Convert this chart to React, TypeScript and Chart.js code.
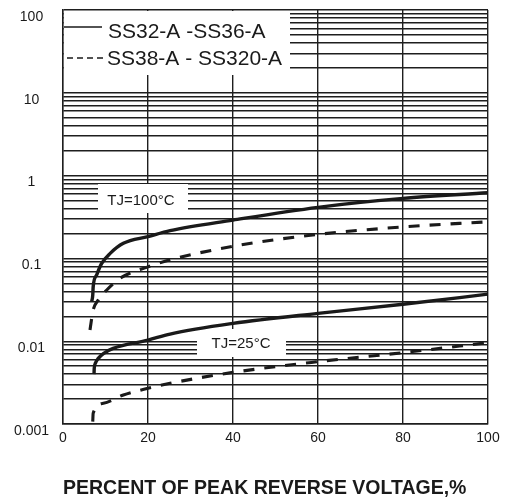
import React, { useEffect, useRef } from 'react';
import { Chart, registerables } from 'chart.js';

Chart.register(...registerables);

// ---- axis data ----
const xTickStep = 20;
const xMin = 0;
const xMax = 100;
const yDecades = [0.001, 0.01, 0.1, 1, 10];
const yMultipliers = [1, 2, 3, 4, 5, 6, 7, 8, 9];
const yMin = 0.001;
const yMax = 100;
const yTickLabels = ['0.001', '0.01', '0.1', '1', '10', '100'];

// ---- text ----
const legendLabels = ['SS32-A -SS36-A', 'SS38-A - SS320-A'];
const annotationLabels = ['TJ=100°C', 'TJ=25°C'];
const xAxisTitle = 'PERCENT OF PEAK REVERSE VOLTAGE,%';

// ---- series (percent of VRRM, reverse current) ----
// TJ = 100°C, SS32-A - SS36-A (solid)
const solid100X = [6.75, 7.0, 7.1, 7.9, 9.1, 11.1, 14.2, 20, 25.2, 40, 60, 80, 100];
const solid100Y = [0.03, 0.036, 0.0455, 0.063, 0.087, 0.115, 0.152, 0.183, 0.216, 0.29, 0.414, 0.53, 0.62];
// TJ = 100°C, SS38-A - SS320-A (dashed)
const dash100X = [6.35, 7.1, 8.3, 10.3, 13.4, 20, 25.2, 40, 60, 80, 100];
const dash100Y = [0.0137, 0.0238, 0.0315, 0.0415, 0.0575, 0.079, 0.096, 0.14, 0.195, 0.24, 0.277];
// TJ = 25°C, SS32-A - SS36-A (solid)
const solid25X = [7.3, 7.35, 7.6, 8.3, 9.5, 11.8, 20, 25.2, 40, 60, 80, 100];
const solid25Y = [0.004, 0.0047, 0.0054, 0.0062, 0.0071, 0.0082, 0.0103, 0.0122, 0.0164, 0.0217, 0.0279, 0.037];
// TJ = 25°C, SS38-A - SS320-A (dashed)
const dash25X = [7.0, 7.1, 9.5, 14.2, 20, 25.2, 40, 60, 80, 100];
const dash25Y = [0.00107, 0.00135, 0.00178, 0.00224, 0.0027, 0.0031, 0.0042, 0.00566, 0.00727, 0.0096];

const INK = '#1a1a1a';
const GRID = '#1e1e1e';
const FAMILY = '"Liberation Sans", Arial, Helvetica, sans-serif';

const toPoints = (xs: number[], ys: number[]) => xs.map((x, i) => ({ x, y: ys[i] }));

const overlayPlugin = {
  id: 'overlayLabels',
  beforeDatasetsDraw(chart: any) {
    const ctx = chart.ctx as CanvasRenderingContext2D;
    const a = chart.chartArea;
    ctx.save();
    // white boxes hiding grid
    ctx.fillStyle = '#ffffff';
    ctx.fillRect(a.left + 1, a.top + 1, 226, 64);
    ctx.fillRect(98, 184, 90, 29);
    ctx.fillRect(197, 329, 89, 28);

    // legend
    ctx.fillStyle = INK;
    ctx.font = `21px ${FAMILY}`;
    ctx.textAlign = 'left';
    ctx.textBaseline = 'alphabetic';
    ctx.fillText(legendLabels[0], 108, 37.5);
    ctx.fillText(legendLabels[1], 107, 65);
    ctx.strokeStyle = INK;
    ctx.lineWidth = 1.3;
    ctx.beginPath();
    ctx.moveTo(a.left + 1, 27);
    ctx.lineTo(102, 27);
    ctx.stroke();
    ctx.setLineDash([6, 4]);
    ctx.beginPath();
    ctx.moveTo(67, 58);
    ctx.lineTo(105, 58);
    ctx.stroke();
    ctx.setLineDash([]);

    // temperature labels
    ctx.font = `15px ${FAMILY}`;
    ctx.textAlign = 'center';
    ctx.fillText(annotationLabels[0], 141, 204.7);
    ctx.fillText(annotationLabels[1], 241, 348);
    ctx.restore();
  },
};

export default function App() {
  const canvasRef = useRef<HTMLCanvasElement | null>(null);

  useEffect(() => {
    if (!canvasRef.current) return;
    const yTickValues: number[] = [];
    yDecades.forEach((d) => yMultipliers.forEach((m) => yTickValues.push(Number((d * m).toPrecision(6)))));
    yTickValues.push(yMax);

    const lineCommon = {
      borderColor: INK,
      backgroundColor: INK,
      pointRadius: 0,
      fill: false,
      cubicInterpolationMode: 'monotone' as const,
      borderCapStyle: 'butt' as const,
    };

    const chart = new Chart(canvasRef.current, {
      type: 'line',
      data: {
        datasets: [
          { ...lineCommon, label: 'SS32-A -SS36-A 100°C', data: toPoints(solid100X, solid100Y), borderWidth: 3.4 },
          { ...lineCommon, label: 'SS38-A - SS320-A 100°C', data: toPoints(dash100X, dash100Y), borderWidth: 3.1, borderDash: [11, 10] },
          { ...lineCommon, label: 'SS32-A -SS36-A 25°C', data: toPoints(solid25X, solid25Y), borderWidth: 3.4 },
          { ...lineCommon, label: 'SS38-A - SS320-A 25°C', data: toPoints(dash25X, dash25Y), borderWidth: 3.1, borderDash: [11, 10] },
        ],
      },
      options: {
        responsive: false,
        animation: false,
        devicePixelRatio: 1,
        layout: { padding: { left: 0, top: 10, right: 18, bottom: 0 } },
        plugins: {
          legend: { display: false },
          tooltip: { enabled: false },
        },
        scales: {
          x: {
            type: 'linear',
            min: xMin,
            max: xMax,
            ticks: {
              stepSize: xTickStep,
              color: INK,
              font: { size: 14, family: FAMILY },
              padding: 0,
              maxRotation: 0,
            },
            grid: { color: GRID, lineWidth: 1.4, drawTicks: true, tickLength: 6, tickColor: 'rgba(0,0,0,0)' },
            border: { color: GRID, width: 1.4 },
            title: {
              display: true,
              text: xAxisTitle,
              align: 'start',
              color: INK,
              font: { size: 19.5, weight: 'bold', family: FAMILY },
              padding: { top: 0, bottom: 0 },
            },
            afterFit: (scale: any) => {
              scale.height = 76;
            },
          },
          y: {
            type: 'logarithmic',
            min: yMin,
            max: yMax,
            afterBuildTicks: (scale: any) => {
              scale.ticks = yTickValues.map((v) => ({ value: v }));
            },
            ticks: {
              autoSkip: false,
              color: INK,
              font: { size: 14, family: FAMILY },
              padding: 0,
              crossAlign: 'center',
              labelOffset: 7,
              callback: (value: any) => {
                const lg = Math.log10(Number(value));
                const e = Math.round(lg);
                if (Math.abs(lg - e) < 1e-6) {
                  return yTickLabels[e + 3] ?? '';
                }
                return '';
              },
            },
            grid: { color: GRID, lineWidth: 1.4, drawTicks: true, tickLength: 14, tickColor: 'rgba(0,0,0,0)' },
            border: { color: GRID, width: 1.4 },
            afterFit: (scale: any) => {
              scale.width = 63;
            },
          },
        },
      } as any,
      plugins: [overlayPlugin],
    });
    return () => chart.destroy();
  }, []);

  return (
    <canvas
      ref={canvasRef}
      width={506}
      height={500}
      style={{ position: 'absolute', left: 0, top: 0, width: 506, height: 500, display: 'block' }}
    />
  );
}
